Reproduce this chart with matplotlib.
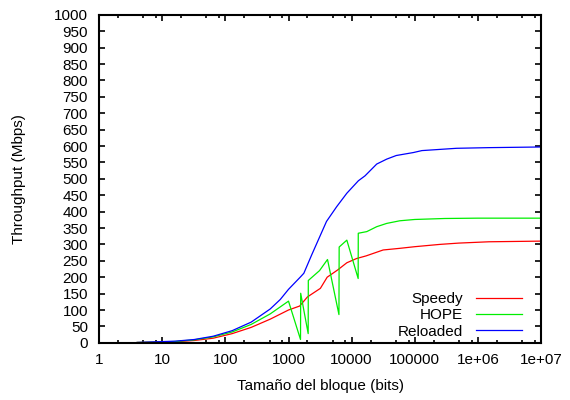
import matplotlib
matplotlib.use("Agg")
import matplotlib.pyplot as plt

plt.rcParams["font.family"] = ["Liberation Sans", "DejaVu Sans"]

# Throughput (Mbps) vs block size (bits)
speedy_x = [4, 8, 16, 32, 64, 128, 256, 512, 1000, 1500, 2000, 3200, 4100,
            6000, 8400, 12000, 17000, 31600, 58000, 1e5, 2.5e5, 5e5, 1.5e6, 1e7]
speedy_y = [1, 2, 3, 7, 14, 28, 47, 72, 100, 112, 140, 166, 200,
            222, 244, 257, 265, 283, 288, 293, 300, 304, 308, 310]

hope_x = [4, 8, 16, 32, 64, 128, 256, 512, 1000, 1550, 1560, 2050, 2060,
          3100, 4150, 6300, 6350, 8400, 12700, 12750, 17400, 25000, 36000,
          58000, 1e5, 3e5, 1e6, 1e7]
hope_y = [1, 2, 4, 9, 18, 33, 56, 88, 127, 10, 151, 28, 190,
          220, 254, 86, 292, 313, 196, 334, 339, 354, 364,
          372, 376, 379, 380, 380]

reloaded_x = [4, 8, 16, 32, 64, 128, 256, 512, 740, 1000, 1550, 1750, 2330,
              4000, 5800, 8400, 12800, 16300, 25000, 36000, 51000, 95000,
              1.3e5, 4.6e5, 1.5e6, 1e7]
reloaded_y = [1, 3, 5, 10, 20, 37, 63, 103, 132, 163, 201, 212, 268,
              370, 415, 456, 494, 509, 545, 560, 571, 580,
              586, 593, 595, 597]

xtick_vals = [1, 10, 100, 1000, 10000, 100000, 1e6, 1e7]
xtick_labels = ["1", "10", "100", "1000", "10000", "100000", "1e+06", "1e+07"]
ytick_vals = list(range(0, 1001, 50))

fig = plt.figure(figsize=(5.7, 4.0), dpi=100)
ax = fig.add_axes([0.174, 0.143, 0.775, 0.82])

ax.plot(speedy_x, speedy_y, color="#ff0000", lw=0.9, label="Speedy")
ax.plot(hope_x, hope_y, color="#00ee00", lw=0.9, label="HOPE")
ax.plot(reloaded_x, reloaded_y, color="#0000ff", lw=0.9, label="Reloaded")

ax.set_xscale("log")
ax.set_xlim(1, 1e7)
ax.set_ylim(0, 1000)
ax.set_xticks(xtick_vals, xtick_labels)
minor = [m * 10 ** k for k in range(7) for m in (2, 5, 8)]
ax.set_xticks(minor, minor=True)
ax.set_yticks(ytick_vals)

ax.tick_params(which="both", direction="in", top=True, right=True,
               labelsize=11, width=1.2)
ax.tick_params(which="major", length=4)
ax.tick_params(which="minor", length=2)
ax.tick_params(axis="y", pad=8)
ax.tick_params(axis="x", pad=7)
for s in ax.spines.values():
    s.set_linewidth(1.5)

ax.set_xlabel("Tamaño del bloque (bits)", fontsize=11, labelpad=9)
ax.set_ylabel("Throughput (Mbps)", fontsize=11, labelpad=20)

ax.legend(loc="lower right", bbox_to_anchor=(0.978, -0.015), frameon=False,
          markerfirst=False, fontsize=11, handlelength=3.0,
          handletextpad=0.85, labelspacing=0.14, borderaxespad=0.2)

fig.savefig("out.png", dpi=100)
